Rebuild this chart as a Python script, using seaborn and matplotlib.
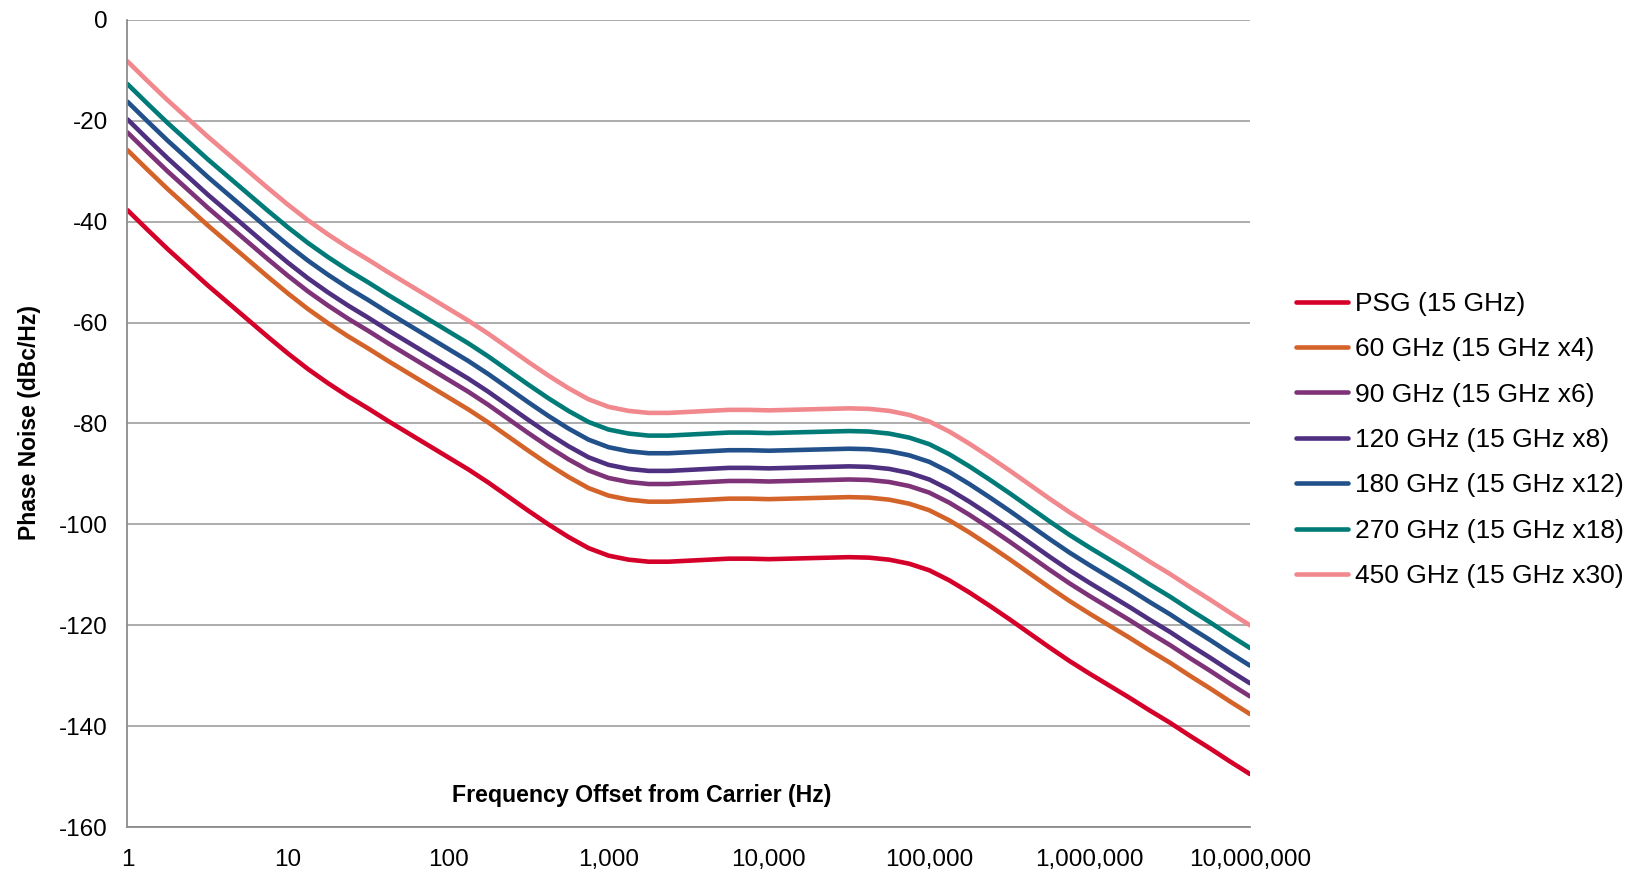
import numpy as np
import pandas as pd
import matplotlib.pyplot as plt
import seaborn as sns

# --- Data ----------------------------------------------------------------------------------------

# offset frequency in Hz (eighth-decade steps, 1 Hz .. 10 MHz)
freq_hz = [1, 1.334, 1.778, 2.371, 3.162, 4.217, 5.623, 7.499,
           10, 13.34, 17.78, 23.71, 31.62, 42.17, 56.23, 74.99,
           100, 133.4, 177.8, 237.1, 316.2, 421.7, 562.3, 749.9,
           1000, 1334, 1778, 2371, 3162, 4217, 5623, 7499,
           1e4, 13335, 17783, 23714, 31623, 42170, 56234, 74989,
           1e5, 133352, 177828, 237137, 316228, 421697, 562341, 749894,
           1e6, 1333521, 1778279, 2371374, 3162278, 4216965, 5623413, 7498942,
           1e7]

psg_15 = [-37.7, -41.6, -45.4, -49.0, -52.6, -56.0, -59.4, -62.8,
          -66.1, -69.2, -72.0, -74.6, -77.0, -79.5, -81.9, -84.3,
          -86.7, -89.1, -91.7, -94.5, -97.3, -100.0, -102.5, -104.7,
          -106.2, -107.0, -107.4, -107.4, -107.2, -107.0, -106.8, -106.8,
          -106.9, -106.8, -106.7, -106.6, -106.5, -106.6, -107.0, -107.8,
          -109.1, -111.1, -113.5, -116.1, -118.8, -121.6, -124.4, -127.1,
          -129.6, -132.0, -134.4, -136.9, -139.3, -141.9, -144.4, -147.0,
          -149.5]

ghz_60 = [-25.8, -29.7, -33.5, -37.1, -40.7, -44.1, -47.5, -50.9,
          -54.2, -57.3, -60.1, -62.7, -65.1, -67.6, -70.0, -72.4,
          -74.8, -77.2, -79.8, -82.6, -85.4, -88.1, -90.6, -92.8,
          -94.3, -95.1, -95.5, -95.5, -95.3, -95.1, -94.9, -94.9,
          -95.0, -94.9, -94.8, -94.7, -94.6, -94.7, -95.1, -95.9,
          -97.2, -99.2, -101.6, -104.2, -106.9, -109.7, -112.5, -115.2,
          -117.7, -120.1, -122.5, -125.0, -127.4, -130.0, -132.5, -135.1,
          -137.6]

ghz_90 = [-22.3, -26.2, -30.0, -33.6, -37.2, -40.6, -44.0, -47.4,
          -50.7, -53.8, -56.6, -59.2, -61.6, -64.1, -66.5, -68.9,
          -71.3, -73.7, -76.3, -79.1, -81.9, -84.6, -87.1, -89.3,
          -90.8, -91.6, -92.0, -92.0, -91.8, -91.6, -91.4, -91.4,
          -91.5, -91.4, -91.3, -91.2, -91.1, -91.2, -91.6, -92.4,
          -93.7, -95.7, -98.1, -100.7, -103.4, -106.2, -109.0, -111.7,
          -114.2, -116.6, -119.0, -121.5, -123.9, -126.5, -129.0, -131.6,
          -134.1]

ghz_120 = [-19.7, -23.6, -27.4, -31.0, -34.6, -38.0, -41.4, -44.8,
           -48.1, -51.2, -54.0, -56.6, -59.0, -61.5, -63.9, -66.3,
           -68.7, -71.1, -73.7, -76.5, -79.3, -82.0, -84.5, -86.7,
           -88.2, -89.0, -89.4, -89.4, -89.2, -89.0, -88.8, -88.8,
           -88.9, -88.8, -88.7, -88.6, -88.5, -88.6, -89.0, -89.8,
           -91.1, -93.1, -95.5, -98.1, -100.8, -103.6, -106.4, -109.1,
           -111.6, -114.0, -116.4, -118.9, -121.3, -123.9, -126.4, -129.0,
           -131.5]

ghz_180 = [-16.2, -20.1, -23.9, -27.5, -31.1, -34.5, -37.9, -41.3,
           -44.6, -47.7, -50.5, -53.1, -55.5, -58.0, -60.4, -62.8,
           -65.2, -67.6, -70.2, -73.0, -75.8, -78.5, -81.0, -83.2,
           -84.7, -85.5, -85.9, -85.9, -85.7, -85.5, -85.3, -85.3,
           -85.4, -85.3, -85.2, -85.1, -85.0, -85.1, -85.5, -86.3,
           -87.6, -89.6, -92.0, -94.6, -97.3, -100.1, -102.9, -105.6,
           -108.1, -110.5, -112.9, -115.4, -117.8, -120.4, -122.9, -125.5,
           -128.0]

ghz_270 = [-12.7, -16.6, -20.4, -24.0, -27.6, -31.0, -34.4, -37.8,
           -41.1, -44.2, -47.0, -49.6, -52.0, -54.5, -56.9, -59.3,
           -61.7, -64.1, -66.7, -69.5, -72.3, -75.0, -77.5, -79.7,
           -81.2, -82.0, -82.4, -82.4, -82.2, -82.0, -81.8, -81.8,
           -81.9, -81.8, -81.7, -81.6, -81.5, -81.6, -82.0, -82.8,
           -84.1, -86.1, -88.5, -91.1, -93.8, -96.6, -99.4, -102.1,
           -104.6, -107.0, -109.4, -111.9, -114.3, -116.9, -119.4, -122.0,
           -124.5]

ghz_450 = [-8.2, -12.1, -15.9, -19.5, -23.1, -26.5, -29.9, -33.3,
           -36.6, -39.7, -42.5, -45.1, -47.5, -50.0, -52.4, -54.8,
           -57.2, -59.6, -62.2, -65.0, -67.8, -70.5, -73.0, -75.2,
           -76.7, -77.5, -77.9, -77.9, -77.7, -77.5, -77.3, -77.3,
           -77.4, -77.3, -77.2, -77.1, -77.0, -77.1, -77.5, -78.3,
           -79.6, -81.6, -84.0, -86.6, -89.3, -92.1, -94.9, -97.6,
           -100.1, -102.5, -104.9, -107.4, -109.8, -112.4, -114.9, -117.5,
           -120.0]

series_labels = ['PSG (15 GHz)', '60 GHz (15 GHz x4)', '90 GHz (15 GHz x6)',
                 '120 GHz (15 GHz x8)', '180 GHz (15 GHz x12)',
                 '270 GHz (15 GHz x18)', '450 GHz (15 GHz x30)']
series_values = [psg_15, ghz_60, ghz_90, ghz_120, ghz_180, ghz_270, ghz_450]
series_colors = ['#D4002A', '#D4632A', '#7E3379', '#4F2F80', '#21508A', '#007B78', '#F0888D']

y_ticks = [-160, -140, -120, -100, -80, -60, -40, -20, 0]
x_ticks = [1, 10, 100, 1000, 1e4, 1e5, 1e6, 1e7]

# long table for seaborn
df = pd.concat(
    [pd.DataFrame({'freq': freq_hz, 'noise': vals, 'series': lab})
     for lab, vals in zip(series_labels, series_values)],
    ignore_index=True)

# --- Plot ----------------------------------------------------------------------------------------

sns.set_theme(style='white')
plt.rcParams['font.family'] = ['Liberation Sans', 'DejaVu Sans']
plt.rcParams['axes.unicode_minus'] = False
plt.rcParams['text.color'] = 'black'

fig = plt.figure(figsize=(16.32, 8.72), dpi=100)
ax = fig.add_axes([0.0781, 0.0516, 0.6878, 0.9255])
ax.set_xscale('log')

sns.lineplot(data=df, x='freq', y='noise', hue='series', hue_order=series_labels,
             palette=series_colors, linewidth=3.3, sort=False, estimator=None,
             solid_capstyle='round', solid_joinstyle='round', ax=ax)

ax.set_xlim(1, 1e7)
ax.set_ylim(-160, 0)
ax.set_yticks(y_ticks)
ax.set_xticks(x_ticks)
ax.xaxis.set_minor_locator(plt.NullLocator())
ax.xaxis.set_major_formatter(plt.FuncFormatter(lambda x, p: f'{x:,.0f}'))
ax.set_xlabel('')
ax.set_ylabel('')

ax.yaxis.grid(True, color='#A6A6A6', linewidth=1.3)
ax.xaxis.grid(False)
for side in ['top', 'right']:
    ax.spines[side].set_visible(False)
for side in ['left', 'bottom']:
    ax.spines[side].set_color('#8C8C8C')
    ax.spines[side].set_linewidth(1.3)

ax.tick_params(axis='both', which='major', direction='out', length=6, width=1.3,
               color='#8C8C8C', labelsize=17.5, labelcolor='black')
ax.tick_params(axis='y', pad=8)
ax.tick_params(axis='x', pad=10)

# axis titles (placed like the original, x title sits inside the plot)
fig.text(642 / 1632, 1 - 795 / 872, 'Frequency Offset from Carrier (Hz)',
         ha='center', va='center', fontsize=16.7, fontweight='bold', color='black')
fig.text(30 / 1632, 1 - 423 / 872, 'Phase Noise (dBc/Hz)', rotation=90,
         ha='center', va='center', fontsize=16.5, fontweight='bold', color='black')

handles, labels = ax.get_legend_handles_labels()
leg = ax.legend(handles, labels, loc='center left', bbox_to_anchor=(1283 / 1632, 1 - 440 / 872),
                bbox_transform=fig.transFigure, frameon=False, fontsize=19,
                handlelength=1.97, handletextpad=0.27, labelspacing=0.81, borderpad=0)
for line in leg.get_lines():
    line.set_linewidth(3.3)

fig.savefig('out.png', dpi=100)
plt.close(fig)
